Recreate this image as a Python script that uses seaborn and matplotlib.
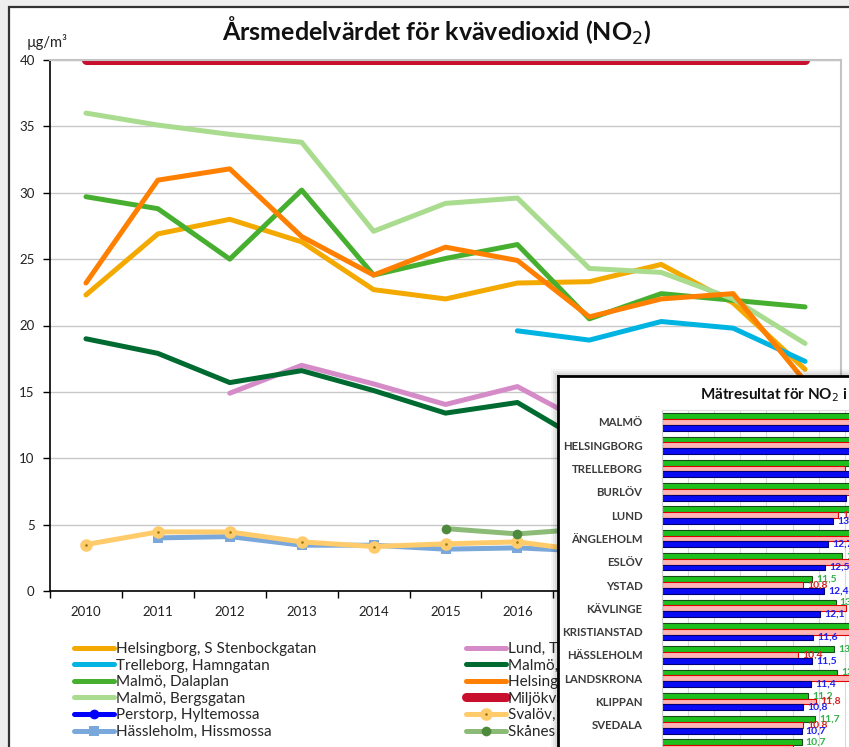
import matplotlib
matplotlib.use("Agg")
import matplotlib.pyplot as plt
import numpy as np
import pandas as pd
import seaborn as sns
from matplotlib.patches import Rectangle

# --- huvuddiagram: årsmedelvärden NO2 ---
years = list(range(2010, 2021))
year_labels = [str(y) for y in years]
nan = np.nan

stenbock = [22.3, 26.9, 28.0, 26.3, 22.7, 22.0, 23.2, 23.3, 24.6, 21.7, 16.7]
hamngatan = [nan, nan, nan, nan, nan, nan, 19.6, 18.9, 20.3, 19.8, 17.3]
dalaplan = [29.7, 28.8, 25.0, 30.2, 23.8, 25.05, 26.1, 20.5, 22.4, 21.9, 21.4]
bergsgatan = [36.0, 35.1, 34.4, 33.8, 27.1, 29.2, 29.6, 24.3, 24.0, 22.0, 18.65]
hyltemossa = [nan, nan, nan, nan, nan, nan, nan, 2.7, 2.5, 2.4, 2.1]
hissmossa = [nan, 4.0, 4.1, 3.45, 3.45, 3.15, 3.25, 3.0, 3.0, 2.8, 2.6]
lund = [nan, nan, 14.9, 17.0, 15.6, 14.05, 15.4, 12.5, 12.0, 11.5, 10.5]
malmo_rh = [19.0, 17.9, 15.7, 16.6, 15.1, 13.4, 14.2, 11.0, 10.5, 10.2, 9.0]
hbg_dr = [23.2, 30.95, 31.8, 26.7, 23.8, 25.9, 24.9, 20.65, 22.0, 22.4, 15.8]
mkn = [40] * 11
vavihill = [3.5, 4.45, 4.45, 3.7, 3.35, 3.55, 3.7, 3.0, 3.1, 2.9, 2.7]
skane = [nan, nan, nan, nan, nan, 4.7, 4.3, 4.7, 4.4, 4.2, 3.9]

# --- infälld bild: mätresultat per kommun ---
cities = ["MALMÖ", "HELSINGBORG", "TRELLEBORG", "BURLÖV", "LUND", "ÄNGLEHOLM",
          "ESLÖV", "YSTAD", "KÄVLINGE", "KRISTIANSTAD", "HÄSSLEHOLM",
          "LANDSKRONA", "KLIPPAN", "SVEDALA", "BJUV"]
bar_green = [22.0, 19.5, 17.0, 16.5, 15.5, 15.0, 13.8, 11.5, 13.3, 15.0, 13.2, 13.4, 11.2, 11.7, 10.7]
bar_pink = [21.0, 19.0, 14.0, 16.0, 13.5, 14.8, 14.5, 10.8, 14.1, 14.6, 10.4, 15.0, 11.8, 10.8, 10.0]
bar_blue = [20.0, 18.5, 15.5, 14.1, 13.1, 12.7, 12.5, 12.4, 12.1, 11.6, 11.5, 11.4, 10.8, 10.7, 10.0]
bar_levels = ["2018", "2019", "2020"]

W, H = 849, 747


def fx(x):
    return x / W


def fy(y):
    return 1 - y / H


sns.set_style("white")
plt.rcParams["font.family"] = ["Lato", "DejaVu Sans"]

fig = plt.figure(figsize=(8.49, 7.47), dpi=100)
fig.patch.set_facecolor("#eeeeee")
fig.add_artist(Rectangle((fx(9), -0.1), 1.2, fy(7) + 0.1, transform=fig.transFigure,
                         facecolor="white", edgecolor="#333333", lw=1.6, zorder=-10))

ax = fig.add_axes([fx(50), fy(591), (841 - 50) / W, (591 - 60) / H])
ax.set_facecolor("white")

lw = 3.6
series = [
    ("Helsingborg, S Stenbockgatan", stenbock, "#F4A900", {}),
    ("Trelleborg, Hamngatan", hamngatan, "#00B4E2", {}),
    ("Malmö, Dalaplan", dalaplan, "#47AF2F", {}),
    ("Malmö, Bergsgatan", bergsgatan, "#A9DC8F", {}),
    ("Perstorp, Hyltemossa", hyltemossa, "#0000FF",
     dict(marker="o", markersize=7, markerfacecolor="#0000FF", markeredgecolor="#0000FF", markeredgewidth=0)),
    ("Hässleholm, Hissmossa", hissmossa, "#7BA8DB",
     dict(marker="s", markersize=6.5, markerfacecolor="#7BA8DB", markeredgecolor="#7BA8DB", markeredgewidth=0)),
    ("Lund, Trollebergsvägen", lund, "#D58BC8", {}),
    ("Malmö, Rådhuset", malmo_rh, "#006B31", {}),
    ("Helsingborg, Drottninggatan", hbg_dr, "#FF8000", {}),
    ("Miljökvalitetsnorm", mkn, "#C8102E", dict(lw=6.5)),
    ("Svalöv, Vavihill", vavihill, "#FFCB6B",
     dict(marker="o", markersize=5.5, markerfacecolor="#9A7B0A", markeredgecolor="#FFCB6B", markeredgewidth=3.5)),
    ("Skånes Fagerhult", skane, "#8CBB78",
     dict(marker="o", markersize=7, markerfacecolor="#4E8A3E", markeredgecolor="#4E8A3E", markeredgewidth=0)),
]

for name, vals, color, extra in series:
    kw = dict(lw=lw)
    kw.update(extra)
    sns.lineplot(x=years, y=np.array(vals, dtype=float), ax=ax, color=color, label=name,
                 solid_capstyle="round", **kw)
if ax.get_legend() is not None:
    ax.get_legend().remove()

ax.set_xlim(2009.5, 2020.5)
ax.set_ylim(0, 40)
ax.set_yticks(range(0, 41, 5))
ax.set_xticks(np.arange(2009.5, 2021, 1))
ax.set_xticklabels([])
ax.set_xticks(years, minor=True)
ax.set_xticklabels(year_labels, minor=True)
ax.tick_params(axis="x", which="major", bottom=True, length=5, width=1, direction="out", color="black")
ax.tick_params(axis="x", which="minor", bottom=True, length=0, pad=11, labelsize=9.5, labelcolor="#222222")
ax.tick_params(axis="y", left=True, length=5, width=1, direction="out", color="black",
               pad=6, labelsize=9.5, labelcolor="#222222")
ax.grid(axis="y", color="#c8c8c8", lw=1)
ax.set_axisbelow(True)
for s in ["left", "bottom"]:
    ax.spines[s].set_color("black")
    ax.spines[s].set_linewidth(1.2)
for s in ["top", "right"]:
    ax.spines[s].set_color("#c4c4c4")
    ax.spines[s].set_linewidth(1.5)
ax.set_xlabel("")
ax.set_ylabel("")

fig.text(fx(437), fy(31), "Årsmedelvärdet för kvävedioxid (NO$_2$)", ha="center", va="center",
         fontsize=18, fontweight="bold", color="#111111")
fig.text(fx(27), fy(42), "µg/m³", ha="left", va="center", fontsize=10.5, color="#222222")

handles, labels = ax.get_legend_handles_labels()
leg_kw = dict(frameon=False, fontsize=11, handlelength=2.6, handletextpad=0.15, labelspacing=0.17,
              borderaxespad=0, borderpad=0, loc="upper left")
fig.legend(handles[:6], labels[:6], bbox_to_anchor=(fx(74), fy(642)), **leg_kw)
fig.legend(handles[6:], labels[6:], bbox_to_anchor=(fx(466), fy(642)), **leg_kw)

# --- infälld ruta ---
for off, a in [(7, 0.04), (5, 0.05), (3, 0.06)]:
    fig.add_artist(Rectangle((fx(558 - off), -0.1), 1, fy(376 - off) + 0.1, transform=fig.transFigure,
                             facecolor="black", alpha=a, lw=0, zorder=19))

ax_box = fig.add_axes([fx(558), 0, 1 - fx(558), fy(376)], zorder=20)
ax_box.set_facecolor("white")
ax_box.set_xticks([])
ax_box.set_yticks([])
for s in ["left", "top"]:
    ax_box.spines[s].set_color("black")
    ax_box.spines[s].set_linewidth(2)
for s in ["right", "bottom"]:
    ax_box.spines[s].set_visible(False)
ax_box.text(fx(700), fy(395), "Mätresultat för NO$_2$ i Skåne", transform=fig.transFigure,
            ha="left", va="center", fontsize=11, fontweight="bold", color="#111111")

ax2 = fig.add_axes([fx(662), 0, 1 - fx(662), fy(410.3)], zorder=21)
ax2.patch.set_alpha(0)

df_bar = pd.DataFrame({
    "stad": cities * 3,
    "värde": bar_green + bar_pink + bar_blue,
    "serie": [bar_levels[0]] * len(cities) + [bar_levels[1]] * len(cities) + [bar_levels[2]] * len(cities),
})
sns.barplot(data=df_bar, y="stad", x="värde", hue="serie", hue_order=bar_levels,
            palette=["#1EC01E", "#FFB5B5", "#0A0AF5"], orient="h", width=0.75,
            errorbar=None, saturation=1, legend=False, ax=ax2)

edge_cols = ["#1a4a1a", "#E00000", "#000070"]
text_cols = ["#33B04A", "#D82020", "#2020F0"]
for cont, ec, tc, vals in zip(ax2.containers, edge_cols, text_cols, [bar_green, bar_pink, bar_blue]):
    for bar in cont:
        bar.set_edgecolor(ec)
        bar.set_linewidth(0.8)
    ax2.bar_label(cont, labels=[f"{v:.1f}".replace(".", ",") for v in vals], padding=3,
                  color=tc, fontsize=7.5, fontweight="bold")

ax2.set_xlim(0, (849 - 662) / 13.05)
ax2.set_ylim(13.95, -0.5)
ax2.set_xticks(np.arange(0, 16, 2))
ax2.tick_params(axis="x", length=0, labelbottom=False)
ax2.xaxis.grid(True, color="#dadada", lw=0.8)
ax2.set_axisbelow(True)
ax2.tick_params(axis="y", length=0, pad=14, labelsize=8.2, labelcolor="#3b3b3b")
for t in ax2.get_yticklabels():
    t.set_fontweight("bold")
ax2.spines["left"].set_color("#cfcfcf")
ax2.spines["top"].set_color("#dddddd")
ax2.spines["right"].set_visible(False)
ax2.spines["bottom"].set_visible(False)
ax2.set_xlabel("")
ax2.set_ylabel("")

fig.savefig("out.png", dpi=100, facecolor=fig.get_facecolor())
